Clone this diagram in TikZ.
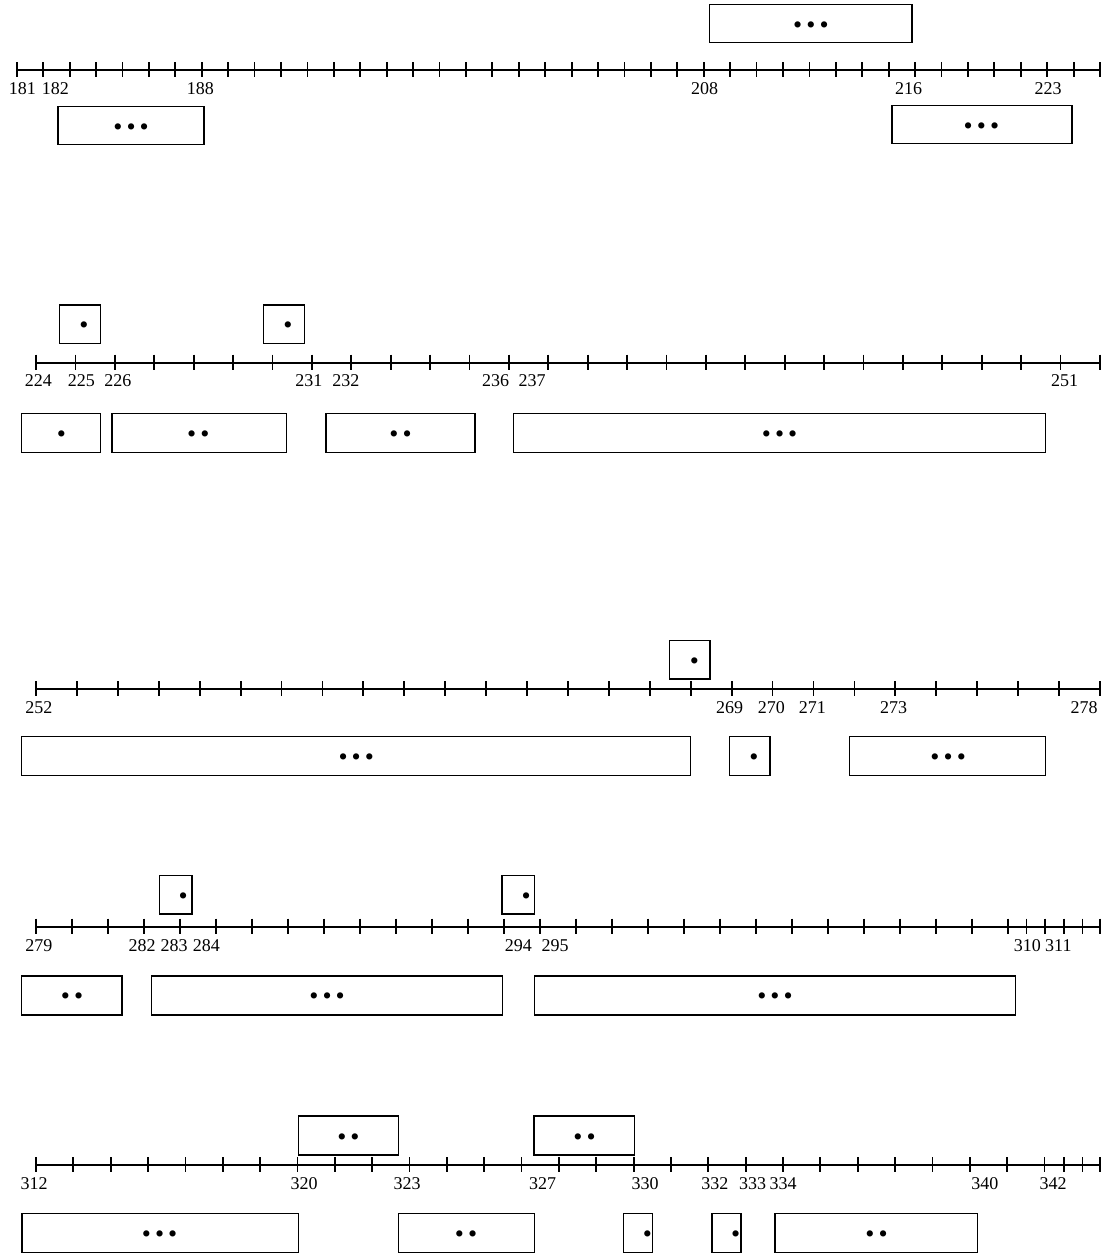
\documentclass[tikz,border=0pt]{standalone}
\usepackage{fontspec}
\setmainfont{Liberation Serif}
\tikzset{
  axisline/.style={line width=1.8pt},
  tickline/.style={line width=1.8pt},
  tbox/.style={draw, line width=1.4pt, inner sep=0pt, outer sep=0pt, fill=white},
  lab/.style={inner sep=0pt, font=\fontsize{18}{20}\selectfont},
  dotn/.style={inner sep=0pt, font=\fontsize{26}{28}\selectfont},
}
\newcommand{\onedot}{\makebox[13.2pt]{\textbullet}}
% name, x1, y1, x2, y2
\newcommand{\mybox}[5]{%
  \node[tbox, minimum width={(#4-#2)*1pt}, minimum height={(#5-#3)*1pt}] (#1) at ({(#2+#4)/2},{(#3+#5)/2}) {};}
% name, x, y, count
\newcommand{\mydots}[4]{%
  \node[dotn] (#1) at (#2,#3) {\ifcase#4\or\onedot\or\onedot\onedot\or\onedot\onedot\onedot\fi};}
\newcommand{\mylab}[3]{\node[lab] (l#1) at (#2,#3) {#1};}
\begin{document}
\begin{tikzpicture}[x=1pt,y=-1pt]
\useasboundingbox (0,0) rectangle (1111,1254);

% ---------------- Row 1 ----------------
\draw[axisline] (16.8,70) -- (1100,70);
\foreach \i in {0,...,41} \draw[tickline] ({16.8+\i*26.42},62) -- ({16.8+\i*26.42},77);
\mylab{181}{22.3}{88.3}
\mylab{182}{55.4}{88.3}
\mylab{188}{200.4}{88.3}
\mylab{208}{704.5}{88.3}
\mylab{216}{908.6}{88.3}
\mylab{223}{1048.2}{88.3}
\mybox{r1t1}{709.6}{4.7}{912.1}{42.7}
\mydots{r1t1d}{810.9}{27.7}{3}
\mybox{r1b1}{57.9}{106.5}{203.9}{144.7}
\mydots{r1b1d}{131.1}{129.6}{3}
\mybox{r1b2}{891.8}{105.5}{1072.1}{143.7}
\mydots{r1b2d}{981.4}{128.6}{3}

% ---------------- Row 2 ----------------
\draw[axisline] (36,362.7) -- (1100,362.7);
\foreach \i in {0,...,27} \draw[tickline] ({36+\i*39.4},354.7) -- ({36+\i*39.4},369.7);
\mylab{224}{38.4}{381}
\mylab{225}{81.3}{381}
\mylab{226}{117.9}{381}
\mylab{231}{308.9}{381}
\mylab{232}{345.9}{381}
\mylab{236}{495.5}{381}
\mylab{237}{532.1}{381}
\mylab{251}{1064.6}{381}
\mybox{r2t1}{59.6}{305}{100.7}{343.3}
\mydots{r2t1d}{83.9}{327.7}{1}
\mybox{r2t2}{263.6}{305}{304.3}{343.3}
\mydots{r2t2d}{287.9}{327.7}{1}
\mybox{r2b1}{21.4}{413.3}{100.7}{452.3}
\mydots{r2b1d}{61.4}{436.7}{1}
\mybox{r2b2}{111.8}{413.3}{286.4}{452.3}
\mydots{r2b2d}{198.4}{436.7}{2}
\mybox{r2b3}{326}{413.3}{475}{452.3}
\mydots{r2b3d}{400.5}{436.7}{2}
\mybox{r2b4}{513.6}{413.3}{1045.4}{452.3}
\mydots{r2b4d}{779.6}{436.7}{3}

% ---------------- Row 3 ----------------
\draw[axisline] (36,689.3) -- (1100,689.3);
\foreach \i in {0,...,26} \draw[tickline] ({36+\i*40.92},681.3) -- ({36+\i*40.92},696.3);
\mylab{252}{38.8}{707.8}
\mylab{269}{729.5}{707.8}
\mylab{270}{771.4}{707.8}
\mylab{271}{812.3}{707.8}
\mylab{273}{893.7}{707.8}
\mylab{278}{1084}{707.8}
\mybox{r3t1}{669.6}{640.7}{710}{679}
\mydots{r3t1d}{694.3}{663.3}{1}
\mybox{r3b1}{21.4}{736.7}{690.4}{775.7}
\mydots{r3b1d}{356.3}{759.3}{3}
\mybox{r3b2}{729.6}{736.7}{770}{775.7}
\mydots{r3b2d}{753.9}{759.3}{1}
\mybox{r3b3}{849.3}{736.7}{1045.7}{775.7}
\mydots{r3b3d}{948.2}{759.3}{3}

% ---------------- Row 4 ----------------
\draw[axisline] (36,926.7) -- (1100,926.7);
\foreach \x in {36,72,...,1008,1026.4,1045,1063.6,1082.5,1100} \draw[tickline] (\x,918.7) -- (\x,933.7);
\mylab{279}{38.8}{945.3}
\mylab{282}{142}{945.3}
\mylab{283}{174.1}{945.3}
\mylab{284}{206.3}{945.3}
\mylab{294}{518.4}{945.3}
\mylab{295}{555}{945.3}
\mylab{310}{1027.3}{945.3}
\mylab{311}{1058.4}{945.3}
\mybox{r4t1}{159.3}{875.7}{192.1}{914}
\mydots{r4t1d}{183.2}{899}{1}
\mybox{r4t2}{501.8}{875.7}{534.6}{914}
\mydots{r4t2d}{526.1}{899}{1}
\mybox{r4b1}{21.4}{976}{122.1}{1015}
\mydots{r4b1d}{72}{998.5}{2}
\mybox{r4b2}{151.4}{976}{502.5}{1015}
\mydots{r4b2d}{327.1}{998.5}{3}
\mybox{r4b3}{534.6}{976}{1015.4}{1015}
\mydots{r4b3d}{775}{998.5}{3}

% ---------------- Row 5 ----------------
\draw[axisline] (36,1165) -- (1100,1165);
\foreach \i in {0,...,27} \draw[tickline] ({36+\i*37.35},1157) -- ({36+\i*37.35},1172);
\foreach \x in {1063.6,1082.5,1100} \draw[tickline] (\x,1157) -- (\x,1172);
\mylab{312}{34}{1183.5}
\mylab{320}{304}{1183.5}
\mylab{323}{407}{1183.5}
\mylab{327}{542.5}{1183.5}
\mylab{330}{645}{1183.5}
\mylab{332}{714.8}{1183.5}
\mylab{333}{752.7}{1183.5}
\mylab{334}{783}{1183.5}
\mylab{340}{984.8}{1183.5}
\mylab{342}{1053}{1183.5}
\mybox{r5t1}{298.2}{1116}{398.2}{1155}
\mydots{r5t1d}{348.4}{1139.7}{2}
\mybox{r5t2}{533.9}{1116}{634.3}{1155}
\mydots{r5t2d}{584.5}{1139.7}{2}
\mybox{r5b1}{22.1}{1213.3}{298.2}{1252.3}
\mydots{r5b1d}{159.6}{1236.7}{3}
\mybox{r5b2}{398.2}{1213.3}{534.6}{1252.3}
\mydots{r5b2d}{466}{1236.7}{2}
\mybox{r5b3}{623.6}{1213.3}{652.5}{1252.3}
\mydots{r5b3d}{647.5}{1236.7}{1}
\mybox{r5b4}{712.1}{1213.3}{741.1}{1252.3}
\mydots{r5b4d}{735.7}{1236.7}{1}
\mybox{r5b5}{775}{1213.3}{977.5}{1252.3}
\mydots{r5b5d}{876.6}{1236.7}{2}
\end{tikzpicture}
\end{document}
